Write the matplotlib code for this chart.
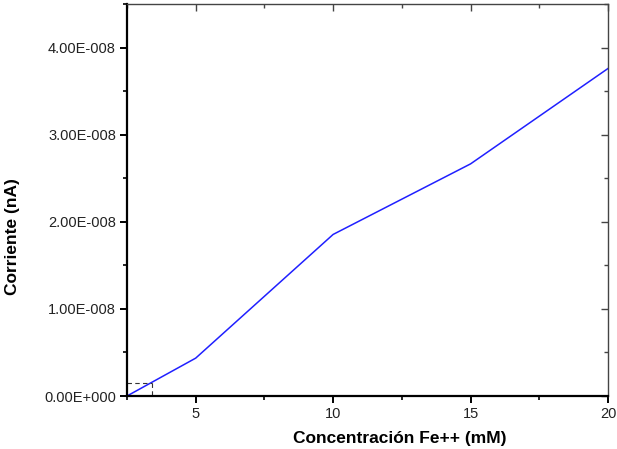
import matplotlib
matplotlib.use("Agg")
import matplotlib.pyplot as plt
from matplotlib.ticker import FuncFormatter, MultipleLocator

plt.rcParams['font.family'] = ['Liberation Sans', 'DejaVu Sans']

conc = [2.5, 5, 10, 15, 20]
current = [0.0, 0.435e-8, 1.855e-8, 2.665e-8, 3.76e-8]
lod_x = 3.4
lod_y = 0.155e-8

fig = plt.figure(figsize=(6.17, 4.49), dpi=100)
ax = fig.add_axes([0.2058, 0.1180, 0.9854 - 0.2058, 0.991 - 0.1180])

ax.plot(conc, current, color='#2020ff', lw=1.1)
ax.plot([conc[0], lod_x], [lod_y, lod_y], color='#333333', lw=0.8, ls=(0, (4, 3)))
ax.plot([lod_x, lod_x], [lod_y, 0], color='#333333', lw=0.8, ls=(0, (4, 3)))

ax.set_xlim(2.5, 20)
ax.set_ylim(0, 4.5e-8)
ax.xaxis.set_major_locator(MultipleLocator(5))
ax.xaxis.set_minor_locator(MultipleLocator(2.5))
ax.yaxis.set_major_locator(MultipleLocator(1e-8))
ax.yaxis.set_minor_locator(MultipleLocator(0.5e-8))

def fmt(v, pos):
    if abs(v) < 1e-20:
        return '0.00E+000'
    s = '%.2E' % v
    mant, exp = s.split('E')
    e = int(exp)
    sign = '-' if e < 0 else '+'
    return '%sE%s%03d' % (mant, sign, abs(e))

ax.yaxis.set_major_formatter(FuncFormatter(fmt))

for side in ['left', 'bottom']:
    ax.spines[side].set_linewidth(1.6)
for side in ['top', 'right']:
    ax.spines[side].set_linewidth(1.0)
    ax.spines[side].set_color('#444444')

ax.tick_params(axis='both', which='major', direction='out', length=5, width=1.4,
               labelsize=10.5, pad=3, labelcolor='#222222')
ax.tick_params(axis='both', which='minor', direction='out', length=3, width=1.2)
ax.tick_params(axis='both', which='both', top=False, right=False)

# mirrored inward ticks on top/right
axt = ax.secondary_xaxis('top')
axt.xaxis.set_major_locator(MultipleLocator(5))
axt.xaxis.set_minor_locator(MultipleLocator(2.5))
axt.tick_params(which='major', direction='in', length=5, width=1.0, labeltop=False, colors='#444444')
axt.tick_params(which='minor', direction='in', length=3, width=1.0, colors='#444444')
axt.spines['top'].set_visible(False)
axr = ax.secondary_yaxis('right')
axr.yaxis.set_major_locator(MultipleLocator(1e-8))
axr.yaxis.set_minor_locator(MultipleLocator(0.5e-8))
axr.tick_params(which='major', direction='in', length=5, width=1.0, labelright=False, colors='#444444')
axr.tick_params(which='minor', direction='in', length=3, width=1.0, colors='#444444')
axr.spines['right'].set_visible(False)

ax.set_xlabel('Concentración Fe++ (mM)', fontsize=12.5, fontweight='bold', labelpad=7)
ax.set_ylabel('Corriente (nA)', fontsize=12.5, fontweight='bold', labelpad=17)
ax.xaxis.label.set_x(0.5676)
ax.yaxis.label.set_y(0.4056)

fig.savefig('out.png', dpi=100)
